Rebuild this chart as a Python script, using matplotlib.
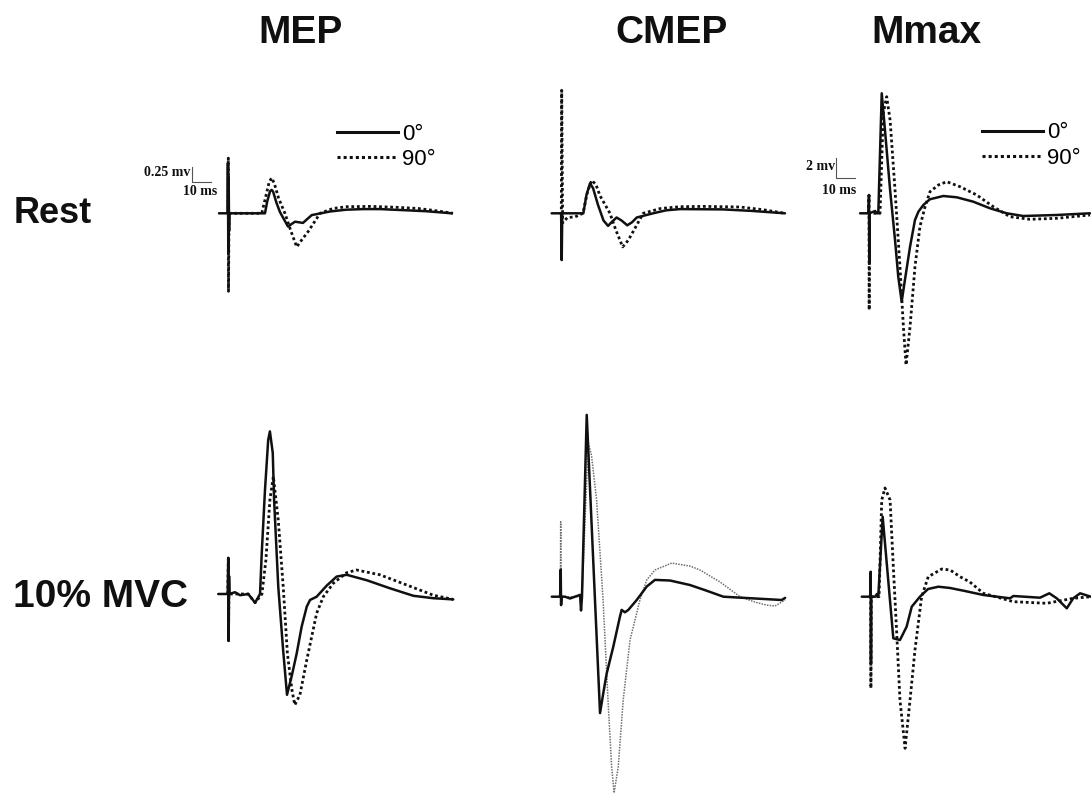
import matplotlib
matplotlib.use("Agg")
import matplotlib.pyplot as plt
from matplotlib.lines import Line2D

# ---------------- data (time in ms, amplitude in mV) ----------------
columns = ["MEP", "CMEP", "Mmax"]
rows = ["Rest", "10% MVC"]
legend_labels = ["0°", "90°"]

mep_rest_t0 = [-4.9, -0.4, -0.2, 0.0, 0.2, 0.4, 0.6, 19.3, 20.5, 22.0, 22.8, 23.6, 25.3, 27.2, 31.4, 35.1, 39.3, 43.9, 53.5, 62.0, 70.9, 80.0, 90.4, 104.0, 117.6]
mep_rest_v0 = [0, 0, 0.84, -0.66, 0.6, -0.3, 0, 0, 0.2, 0.37, 0.39, 0.36, 0.18, 0.02, -0.22, -0.14, -0.16, -0.03, 0.03, 0.06, 0.07, 0.07, 0.055, 0.035, 0]
mep_rest_t90 = [-0.4, -0.1, 0.0, 0.1, 0.4, 17.6, 19.5, 21.5, 22.8, 24.2, 26.5, 29.8, 33.0, 36.0, 38.5, 41.9, 48.3, 55.0, 62.3, 75.0, 88.6, 100.0, 110.0, 118.3]
mep_rest_v90 = [0, 0, 0.92, -1.3, 0, 0, 0.25, 0.52, 0.59, 0.5, 0.25, 0, -0.3, -0.56, -0.45, -0.31, 0, 0.08, 0.11, 0.115, 0.1, 0.08, 0.04, 0]

cmep_rest_t0 = [-5.3, -0.3, 0.0, 0.3, 11.4, 13.0, 14.9, 16.5, 19.1, 22.0, 24.4, 26.5, 28.9, 31.5, 34.5, 37.0, 39.5, 48.1, 55.0, 62.3, 84.9, 100.0, 117.5]
cmep_rest_v0 = [0, 0, -0.78, 0, 0, 0.3, 0.5, 0.42, 0.14, -0.12, -0.21, -0.14, -0.07, -0.12, -0.2, -0.15, -0.07, 0, 0.05, 0.07, 0.065, 0.04, 0]
cmep_rest_t90 = [-1.0, -0.2, 0.0, 0.5, 3.0, 7.0, 11.2, 13.5, 15.8, 18.0, 20.2, 25.4, 28.5, 32.1, 35.0, 37.5, 42.9, 52.0, 62.3, 75.0, 93.8, 106.0, 117.5]
cmep_rest_v90 = [0, 0, 2.05, -0.16, -0.07, -0.06, 0, 0.35, 0.55, 0.48, 0.29, 0, -0.28, -0.56, -0.45, -0.31, 0, 0.08, 0.11, 0.115, 0.105, 0.06, 0]

mmax_rest_t0 = [-4.7, -0.3, 0.0, 0.15, 0.3, 3.2, 4.2, 4.9, 6.7, 8.4, 11.1, 13.7, 15.4, 17.2, 18.9, 21.6, 24.2, 26.0, 28.6, 32.0, 39.1, 46.2, 54.9, 63.7, 72.5, 81.2, 98.8, 116.3]
mmax_rest_v0 = [0, 0, 1.83, -4.84, 0, 0.23, 0, 0, 12.0, 8.33, 2.33, -2.67, -6.34, -8.84, -6.67, -3.34, -0.67, 0.16, 0.83, 1.4, 1.73, 1.6, 1.16, 0.5, 0, -0.27, -0.17, 0]
mmax_rest_t90 = [-0.3, 0.0, 0.1, 0.3, 5.8, 7.5, 9.3, 11.1, 13.7, 16.3, 18.1, 19.5, 21.6, 24.2, 26.8, 29.5, 32.1, 36.5, 40.9, 47.9, 56.7, 65.4, 74.2, 84.7, 98.8, 116.3]
mmax_rest_v90 = [0, 1.8, -9.67, 0, 0, 10.0, 11.66, 9.33, 2.33, -5.34, -11.34, -15.17, -11.34, -5.34, -1.34, 0.66, 2.16, 2.83, 3.16, 2.66, 1.83, 0.66, -0.34, -0.6, -0.5, -0.17]

mep_mvc_t0 = [-5.3, -0.3, 0.0, 0.2, 0.4, 0.6, 3.5, 6.2, 10.5, 14.1, 16.7, 17.6, 19.3, 21.0, 21.9, 23.4, 24.1, 26.3, 28.9, 30.9, 33.5, 36.0, 38.6, 41.3, 43.0, 46.5, 51.8, 57.0, 62.3, 72.8, 85.1, 97.4, 107.9, 118.4]
mep_mvc_v0 = [0, 0, 0.6, -0.78, 0.3, 0, 0.03, -0.02, 0, -0.145, 0, 0.68, 1.73, 2.57, 2.71, 2.35, 1.57, 0.12, -0.95, -1.68, -1.35, -0.99, -0.545, -0.21, -0.1, -0.045, 0.14, 0.29, 0.32, 0.23, 0.095, -0.03, -0.07, -0.09]
mep_mvc_t90 = [-0.3, 0.0, 0.1, 0.3, 10.5, 14.1, 17.7, 19.8, 21.9, 23.7, 26.3, 28.9, 31.1, 33.5, 35.0, 37.7, 41.3, 43.9, 46.5, 50.0, 55.3, 62.3, 67.5, 79.8, 93.9, 107.9, 118.4]
mep_mvc_v90 = [0, 0.6, -0.78, 0, 0, -0.145, 0, 0.57, 1.57, 1.96, 1.23, 0.12, -0.99, -1.6, -1.85, -1.68, -1.1, -0.71, -0.32, -0.045, 0.18, 0.355, 0.4, 0.32, 0.15, -0.02, -0.09]

cmep_mvc_t0 = [-4.7, -0.3, 0.0, 0.2, 0.5, 2.3, 4.9, 7.5, 10.2, 10.7, 11.2, 13.7, 20.7, 22.4, 24.2, 27.7, 31.2, 32.1, 33.8, 35.6, 40.0, 45.3, 49.6, 57.5, 68.0, 75.9, 85.6, 116.3, 118.1]
cmep_mvc_v0 = [0, 0, 0.45, -0.14, 0, 0, -0.03, 0, 0.03, -0.23, 0, 3.03, -1.94, -1.61, -1.28, -0.83, -0.33, -0.22, -0.26, -0.22, -0.055, 0.17, 0.28, 0.27, 0.195, 0.11, 0, -0.055, -0.02]
cmep_mvc_t90 = [-0.2, 0.0, 0.2, 11.2, 14.5, 16.2, 18.9, 22.3, 24.9, 26.8, 28.1, 30.3, 32.9, 36.5, 41.7, 45.3, 49.6, 58.4, 68.1, 73.3, 83.9, 94.4, 102.3, 108.4, 112.8, 118.1]
cmep_mvc_v90 = [0, 1.25, 0, 0, 2.56, 2.36, 1.61, -0.055, -1.72, -2.83, -3.27, -2.83, -1.72, -0.72, -0.055, 0.28, 0.445, 0.56, 0.51, 0.445, 0.245, 0, -0.09, -0.14, -0.155, -0.055]

mmax_mvc_t0 = [-4.7, -0.3, 0.0, 0.15, 0.3, 2.3, 3.3, 4.0, 6.3, 11.9, 15.4, 18.9, 21.6, 25.9, 30.2, 35.6, 41.8, 49.6, 59.3, 73.3, 75.1, 89.1, 94.0, 97.9, 103.2, 106.6, 110.2, 115.9]
mmax_mvc_v0 = [0, 0, 2.5, -6.66, 0, 0, 0.27, 0, 8.0, -4.16, -4.33, -3.0, -1.0, 0, 0.77, 1.0, 0.87, 0.57, 0.17, -0.16, 0.07, -0.1, 0.34, -0.16, -1.16, -0.16, 0.34, 0]
mmax_mvc_t90 = [-0.3, 0.0, 0.1, 0.3, 4.4, 5.8, 7.5, 10.2, 11.9, 13.7, 15.4, 18.1, 20.7, 23.3, 26.8, 30.3, 32.8, 37.4, 41.8, 47.0, 52.2, 59.3, 75.1, 92.6, 106.6, 115.9]
mmax_mvc_v90 = [0, 0, -9.16, 0, 0, 9.67, 10.87, 9.67, 3.0, -3.66, -10.33, -15.16, -10.33, -5.33, 0, 2.0, 2.27, 2.77, 2.67, 2.0, 1.47, 0.34, -0.5, -0.66, -0.16, 0]

# scale bars: (amplitude in mV, duration in ms)
mep_scale = (0.25, 10)
mmax_scale = (2, 10)
mep_scale_label = "0.25 mv"
mmax_scale_label = "2 mv"
time_scale_label = "10 ms"

# ---------------- layout / style ----------------
W, H, DPI = 1091, 794, 100
PX_PER_MS = 1.9
INK = "#101010"

fig = plt.figure(figsize=(W / DPI, H / DPI), dpi=DPI)
fig.patch.set_facecolor("white")


def panel_axes(x0, y0, px_per_mv):
    """An invisible axes covering the figure, with the stimulus at pixel x0 and baseline at pixel y0."""
    ax = fig.add_axes([0, 0, 1, 1])
    ax.set_xlim((0 - x0) / PX_PER_MS, (W - x0) / PX_PER_MS)
    ax.set_ylim((y0 - H) / px_per_mv, y0 / px_per_mv)
    ax.axis("off")
    ax.patch.set_alpha(0)
    return ax


solid_kw = dict(color=INK, lw=1.8, solid_joinstyle="round", solid_capstyle="round")
dot_kw = dict(color=INK, lw=2.0, linestyle=(0, (1, 1)), dash_capstyle="butt")
thin_dot_kw = dict(color="#707070", lw=1.1, linestyle=(0, (1, 0.8)), dash_capstyle="butt")

panels = [
    # x0, y0, px/mV, 0° series, 90° series, dotted style
    (228.3, 213.3, 60, (mep_rest_t0, mep_rest_v0), (mep_rest_t90, mep_rest_v90), dot_kw),
    (561.7, 213.3, 60, (cmep_rest_t0, cmep_rest_v0), (cmep_rest_t90, cmep_rest_v90), dot_kw),
    (869.0, 213.3, 10, (mmax_rest_t0, mmax_rest_v0), (mmax_rest_t90, mmax_rest_v90), dot_kw),
    (228.3, 594.0, 60, (mep_mvc_t0, mep_mvc_v0), (mep_mvc_t90, mep_mvc_v90), dot_kw),
    (560.7, 596.7, 60, (cmep_mvc_t0, cmep_mvc_v0), (cmep_mvc_t90, cmep_mvc_v90), thin_dot_kw),
    (870.7, 596.7, 10, (mmax_mvc_t0, mmax_mvc_v0), (mmax_mvc_t90, mmax_mvc_v90), dot_kw),
]

axes = []
for x0, y0, sy, s0, s90, dkw in panels:
    ax = panel_axes(x0, y0, sy)
    ax.plot(s90[0], s90[1], **dkw, zorder=2)
    ax.plot(s0[0], s0[1], **solid_kw, zorder=3)
    axes.append(ax)


def scale_bar(ax, t, v, amp, dur, amp_label, lab_amp_v, ms_t, ms_v):
    ax.plot([t, t, t + dur], [v + amp, v, v], color="#555555", lw=0.8)
    ax.text(t - 0.4, lab_amp_v, amp_label, ha="right", va="center",
            family="Liberation Serif", weight="bold", fontsize=10, color=INK)
    ax.text(ms_t, ms_v, time_scale_label, ha="center", va="baseline",
            family="Liberation Serif", weight="bold", fontsize=10, color=INK)


scale_bar(axes[0], -19.3, 0.52, mep_scale[0], mep_scale[1], mep_scale_label, 0.68, -14.7, 0.30)
scale_bar(axes[2], -17.5, 3.5, mmax_scale[0], mmax_scale[1], mmax_scale_label, 4.66, -15.8, 1.9)

# legends
for ax, (lx, ly) in [(axes[0], (336.7, 123.5)), (axes[2], (981.7, 122.5))]:
    handles = [Line2D([], [], color=INK, lw=2.2),
               Line2D([], [], color=INK, lw=2.2, linestyle=(0, (1, 1)), dash_capstyle="butt")]
    ax.legend(handles, legend_labels, loc="upper left",
              bbox_to_anchor=(lx / W, 1 - ly / H), bbox_transform=fig.transFigure,
              frameon=False, handlelength=2.76, handletextpad=0.17, labelspacing=0.21,
              borderpad=0, borderaxespad=0,
              prop=dict(family="Liberation Sans", size=16))

# column titles and row labels
title_kw = dict(family="Liberation Sans", weight="bold", color=INK, va="baseline", ha="left")
for name, x in zip(columns, [258, 615, 871.7]):
    fig.text(x / W, 1 - 42.7 / H, name, fontsize=28, **title_kw)
fig.text(13.3 / W, 1 - 222.7 / H, rows[0], fontsize=26, **title_kw)
fig.text(13.3 / W, 1 - 607.3 / H, rows[1], fontsize=28, **title_kw)

fig.savefig("out.png", dpi=DPI, facecolor="white")
